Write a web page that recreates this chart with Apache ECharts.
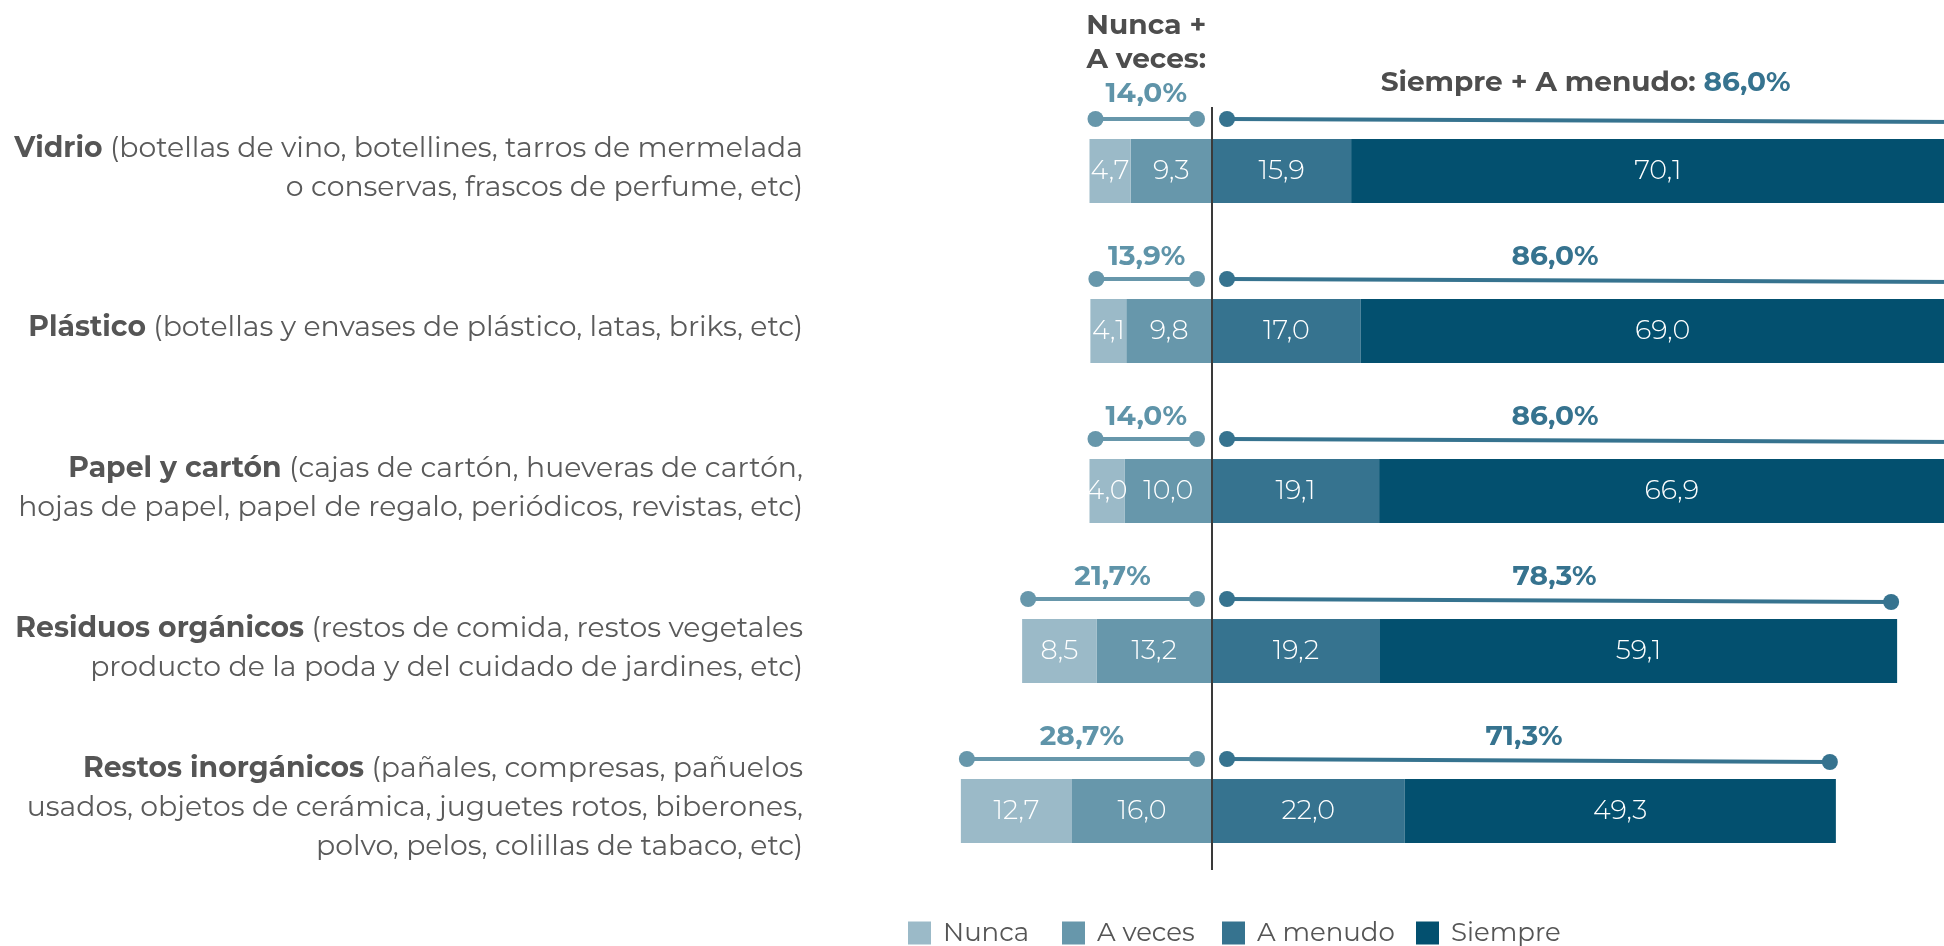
<!DOCTYPE html>
<html><head><meta charset="utf-8">
<script src="https://cdn.jsdelivr.net/npm/echarts@6/dist/echarts.min.js"></script>
<style>html,body{margin:0;padding:0;overflow:hidden;background:#fff;width:1944px;height:946px}
#chart{width:2100px;height:946px}</style></head>
<body><div id="chart"></div>
<script>
const categories = ['Vidrio','Plástico','Papel y cartón','Residuos orgánicos','Restos inorgánicos'];
const descriptions = [
  ['(botellas de vino, botellines, tarros de mermelada','o conservas, frascos de perfume, etc)'],
  ['(botellas y envases de plástico, latas, briks, etc)'],
  ['(cajas de cartón, hueveras de cartón,','hojas de papel, papel de regalo, periódicos, revistas, etc)'],
  ['(restos de comida, restos vegetales','producto de la poda y del cuidado de jardines, etc)'],
  ['(pañales, compresas, pañuelos','usados, objetos de cerámica, juguetes rotos, biberones,','polvo, pelos, colillas de tabaco, etc)']
];
const seriesNames = ['Nunca','A veces','A menudo','Siempre'];
const nunca   = [4.7, 4.1, 4.0, 8.5, 12.7];
const aVeces  = [9.3, 9.8, 10.0, 13.2, 16.0];
const aMenudo = [15.9, 17.0, 19.1, 19.2, 22.0];
const siempre = [70.1, 69.0, 66.9, 59.1, 49.3];
const totalNeg = [14.0, 13.9, 14.0, 21.7, 28.7];
const totalPos = [86.0, 86.0, 86.0, 78.3, 71.3];
const headerLeft = ['Nunca +','A veces:'];
const headerRight = 'Siempre + A menudo: ';

const FONT = "'Montserrat','Open Sans',sans-serif";
const colors = {Nunca:'#9bbac8','A veces':'#6797ab','A menudo':'#36738f',Siempre:'#03506f'};
const legendLeft = {Nunca:908,'A veces':1062,'A menudo':1222,Siempre:1416};
const fmt = v => Math.abs(v).toFixed(1).replace('.', ',');

const chart = echarts.init(document.getElementById('chart'), null, {renderer:'canvas'});

function barSeries(name, data, neg){
  return {
    name, type:'bar', stack:'t', barWidth:64,
    data: data.map(v => neg ? -v : v),
    itemStyle:{color:colors[name]},
    label:{show:true, position:'inside', color:'#fff', fontFamily:FONT, fontSize:27, fontWeight:300,
      formatter: p => fmt(p.value)},
    emphasis:{disabled:true}
  };
}

const option = {
  animation:false,
  grid:{left:862, right:13, top:91, height:800},
  xAxis:{type:'value', min:-40, max:100, show:false},
  yAxis:{type:'category', data:categories, inverse:true,
    axisLine:{show:false}, axisTick:{show:false}, splitLine:{show:false},
    axisLabel:{margin:59, fontFamily:FONT, padding:[0,0,6,0],
      formatter:(v, i) => {
        const d = descriptions[i];
        return '{b|' + v + '}{n| ' + d[0] + '}' + d.slice(1).map(s => '\n{n|' + s + '}').join('');
      },
      rich:{
        b:{fontFamily:FONT, fontWeight:'bold', fontSize:28.3, color:'#555555', align:'right', lineHeight:39},
        n:{fontFamily:FONT, fontSize:28.3, color:'#5a5a5a', align:'right', lineHeight:39}
      }
    }
  },
  legend: seriesNames.map(n => ({
    data:[n], left:legendLeft[n], top:920, padding:0, itemWidth:23, itemHeight:23, icon:'rect',
    selectedMode:false,
    textStyle:{fontFamily:FONT, fontSize:26, color:'#555555', padding:[0,0,0,7]}
  })),
  series:[
    barSeries('A veces', aVeces, true),
    barSeries('Nunca', nunca, true),
    barSeries('A menudo', aMenudo, false),
    barSeries('Siempre', siempre, false),
    {
      type:'custom', z:10, silent:true,
      data: categories.map((c, i) => [i, totalNeg[i], totalPos[i]]),
      encode:{y:0, x:[1,2]},
      renderItem:(params, api) => {
        const i = api.value(0), neg = api.value(1), pos = api.value(2);
        const c0 = api.coord([0, i]);
        const x0 = c0[0], y = c0[1] - 52;
        const xl = api.coord([-neg, i])[0], xr = api.coord([pos, i])[0];
        const inset = 6, gap = 15, r = 8;
        const lc = colors['A veces'], rc = colors['A menudo'];
        const a1 = xl + inset, a2 = x0 - gap, b1 = x0 + gap, b2 = xr - inset;
        const yEnd = y + 3;
        const children = [
          {type:'line', shape:{x1:a1, y1:y, x2:a2, y2:y}, style:{stroke:lc, lineWidth:4}},
          {type:'circle', shape:{cx:a1, cy:y, r}, style:{fill:lc}},
          {type:'circle', shape:{cx:a2, cy:y, r}, style:{fill:lc}},
          {type:'line', shape:{x1:b1, y1:y, x2:b2, y2:yEnd}, style:{stroke:rc, lineWidth:4}},
          {type:'circle', shape:{cx:b1, cy:y, r}, style:{fill:rc}},
          {type:'circle', shape:{cx:b2, cy:yEnd, r}, style:{fill:rc}}
        ];
        const pctL = fmt(neg) + '%', pctR = fmt(pos) + '%';
        const lx = (a1 + a2) / 2;
        if (i === 0) {
          children.push({type:'text', style:{x:lx, y:y - 8,
            text: headerLeft.map(s => '{h|' + s + '}').join('\n') + '\n{p|' + pctL + '}',
            align:'center', verticalAlign:'bottom',
            rich:{h:{fontFamily:FONT, fontWeight:'bold', fontSize:28, fill:'#4d4d4d', lineHeight:34},
                  p:{fontFamily:FONT, fontWeight:'bold', fontSize:28, fill:'#5f94a9', lineHeight:34}}}});
        } else {
          children.push({type:'text', style:{x:lx, y:y - 22, text:pctL, align:'center', verticalAlign:'middle',
            fontFamily:FONT, fontWeight:'bold', fontSize:28, fill:'#5f94a9'}});
        }
        const rxData = Math.min(pos / 2, 39.2) + (i === 0 ? 3.5 : 0);
        const rx = api.coord([rxData, i])[0];
        if (i === 0) {
          children.push({type:'text', style:{x:rx, y:y - 36, text:'{h|' + headerRight + '}{p|' + pctR + '}',
            align:'center', verticalAlign:'middle',
            rich:{h:{fontFamily:FONT, fontWeight:'bold', fontSize:28, fill:'#4d4d4d'},
                  p:{fontFamily:FONT, fontWeight:'bold', fontSize:28, fill:'#36738f'}}}});
        } else {
          children.push({type:'text', style:{x:rx, y:y - 22, text:pctR, align:'center', verticalAlign:'middle',
            fontFamily:FONT, fontWeight:'bold', fontSize:28, fill:'#36738f'}});
        }
        return {type:'group', children};
      }
    }
  ]
};
chart.setOption(option);

const zx = chart.convertToPixel({xAxisIndex:0}, 0);
const yTop = chart.convertToPixel({yAxisIndex:0}, 0) - 64;
const yBot = chart.convertToPixel({yAxisIndex:0}, categories.length - 1) + 59;
chart.setOption({graphic:[{type:'line', z:100, shape:{x1:zx, y1:yTop, x2:zx, y2:yBot},
  style:{stroke:'#3a3a3a', lineWidth:2}}]});
</script></body></html>
